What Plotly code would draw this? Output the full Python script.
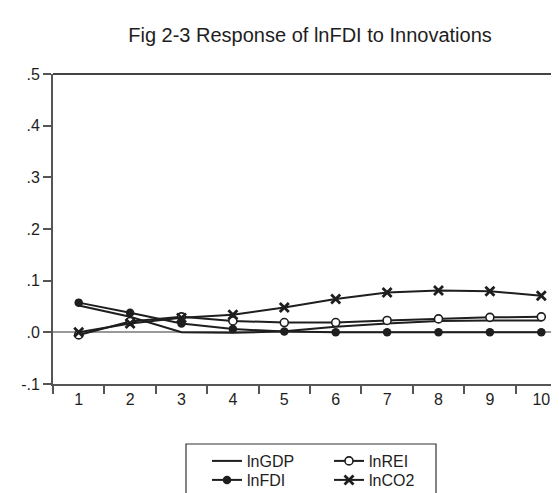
import plotly.graph_objects as go

periods = ["1", "2", "3", "4", "5", "6", "7", "8", "9", "10"]
lnGDP = [0.052, 0.030, 0.000, -0.001, 0.002, 0.011, 0.017, 0.022, 0.023, 0.023]
lnREI = [-0.005, 0.021, 0.030, 0.022, 0.019, 0.019, 0.023, 0.026, 0.029, 0.030]
lnFDI = [0.0575, 0.038, 0.017, 0.0065, 0.0015, 0.0, 0.0, 0.0, 0.0, 0.0]
lnCO2 = [0.000, 0.017, 0.028, 0.034, 0.048, 0.0645, 0.077, 0.081, 0.0795, 0.071]
y_ticks = [-0.1, 0.0, 0.1, 0.2, 0.3, 0.4, 0.5]
y_ticktext = ["-.1", ".0", ".1", ".2", ".3", ".4", ".5"]
title_text = "Fig 2-3 Response of lnFDI to Innovations"

ink = "#1e1e1e"
font_family = "Liberation Sans, Arial, sans-serif"

fig = go.Figure()
fig.add_trace(go.Scatter(x=periods, y=lnGDP, name="lnGDP", mode="lines",
                         line=dict(color=ink, width=2), legend="legend"))
fig.add_trace(go.Scatter(x=periods, y=lnREI, name="lnREI", mode="lines+markers",
                         line=dict(color=ink, width=2),
                         marker=dict(symbol="circle", size=8, color="white",
                                     line=dict(color=ink, width=1.6)),
                         legend="legend"))
fig.add_trace(go.Scatter(x=periods, y=lnFDI, name="lnFDI", mode="lines+markers",
                         line=dict(color=ink, width=2),
                         marker=dict(symbol="circle", size=8.5, color=ink),
                         legend="legend2"))
fig.add_trace(go.Scatter(x=periods, y=lnCO2, name="lnCO2", mode="lines+markers",
                         line=dict(color=ink, width=2),
                         marker=dict(symbol="x-thin", size=9,
                                     line=dict(color=ink, width=2.8)),
                         legend="legend2"))

W, H = 559, 493
L, R, T, B = 45, 0, 66, 117
pw = W - L - R
ph = H - T - B

def px_x(p):
    return (p - L) / pw

def px_y(p):
    return (H - B - p) / ph

legend_common = dict(orientation="h", xanchor="left", yanchor="middle",
                     font=dict(family=font_family, size=16, color=ink),
                     bgcolor="rgba(0,0,0,0)", borderwidth=0,
                     entrywidth=77, entrywidthmode="pixels",
                     itemclick=False, tracegroupgap=0)

fig.update_layout(
    width=W, height=H,
    margin=dict(l=L, r=R, t=T, b=B),
    paper_bgcolor="white", plot_bgcolor="white",
    font=dict(family=font_family, color=ink),
    title=dict(text=title_text, x=0.5, xref="paper", xanchor="center",
               y=1 - 27 / H, yref="container", yanchor="middle",
               font=dict(family=font_family, size=20, color=ink)),
    showlegend=True,
    legend=dict(x=px_x(199), y=px_y(453), **legend_common),
    legend2=dict(x=px_x(199), y=px_y(472), **legend_common),
    xaxis=dict(type="category", tickson="boundaries", ticks="outside",
               ticklen=8, tickwidth=1.5, tickcolor="#555",
               showline=True, linecolor="#555", linewidth=2,
               showgrid=False, zeroline=False,
               range=[-0.5, 9.5],
               tickfont=dict(family=font_family, size=16, color=ink)),
    yaxis=dict(range=[-0.1, 0.5], tickvals=y_ticks, ticktext=y_ticktext,
               ticks="outside", ticklen=8, tickwidth=1.5, tickcolor="#555",
               showline=True, linecolor="#555", linewidth=2,
               showgrid=False, zeroline=True, zerolinecolor="#999",
               zerolinewidth=1.5,
               tickfont=dict(family=font_family, size=16, color=ink)),
    shapes=[
        dict(type="line", xref="paper", yref="paper", x0=0, x1=1, y0=1, y1=1,
             line=dict(color="#444", width=2)),
        dict(type="rect", xref="paper", yref="paper",
             x0=px_x(178), x1=px_x(428), y0=px_y(436), y1=px_y(505),
             line=dict(color="#333", width=1.2), fillcolor="rgba(0,0,0,0)"),
    ],
)

fig.write_html("out.html")
